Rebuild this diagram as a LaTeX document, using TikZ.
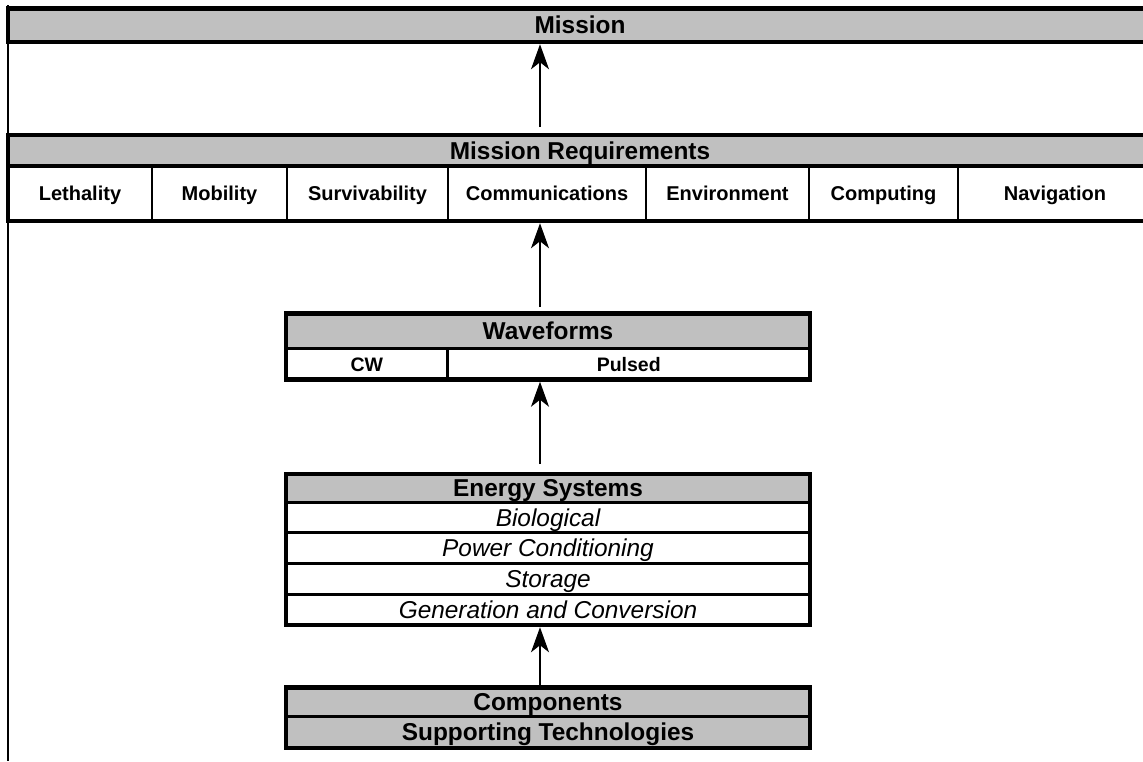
\documentclass[tikz,border=0pt]{standalone}
\usepackage{fontspec}
\setmainfont{Liberation Sans}
\usetikzlibrary{arrows.meta,positioning}
\definecolor{BarGray}{HTML}{C0C0C0}
\tikzset{%
  boxframe/.style={draw=black,line width=4.5pt},
  titlebar/.style={fill=BarGray,draw=black,line width=3pt,inner sep=0pt,outer sep=0pt,
    font=\bfseries\fontsize{24.4}{28}\selectfont,text height=17.4pt,text depth=0pt},
  reqcell/.style={draw=black,line width=1.2pt,inner sep=0pt,outer sep=0pt,
    minimum height=55pt,font=\bfseries\fontsize{20}{24}\selectfont,
    text height=14.3pt,text depth=0pt},
  wavecell/.style={draw=black,line width=3pt,inner sep=0pt,outer sep=0pt,
    minimum height=31pt,font=\bfseries\fontsize{19.5}{23}\selectfont,
    text height=14pt,text depth=0pt},
  energyrow/.style={draw=black,line width=3pt,inner sep=0pt,outer sep=0pt,
    minimum width=524pt,minimum height=30.75pt,font=\itshape\fontsize{24.4}{28}\selectfont,
    text height=17.4pt,text depth=0pt},
  flow/.style={-{Stealth[length=25pt,width=18pt,inset=7pt]},line width=1.5pt}
}

\begin{document}
\begin{tikzpicture}[x=1pt,y=-1pt]
  \useasboundingbox (0,0) rectangle (1143,761);
  \clip (0,0) rectangle (1143,761);

  % left rule
  \coordinate (railtop) at (8,5);
  \coordinate (railbot) at (8,761);
  \draw[line width=2.4pt] (railtop) -- (railbot);

  % mission
  \node[titlebar, boxframe, anchor=north west, minimum width=1144pt, minimum height=33.5pt]
    (mission) at (8,8.5) {Mission};

  % mission requirements
  \node[titlebar, boxframe, anchor=north west, minimum width=1144pt, minimum height=31pt]
    (mreq) at (8,135) {Mission Requirements};
  \node[reqcell, anchor=north west, minimum width=144pt] (lethal) at (mreq.south west) {Lethality};
  \node[reqcell, right=0pt of lethal, minimum width=135pt] (mobil) {Mobility};
  \node[reqcell, right=0pt of mobil, minimum width=161pt] (surviv) {Survivability};
  \node[reqcell, right=0pt of surviv, minimum width=198pt] (comms) {Communications};
  \node[reqcell, right=0pt of comms, minimum width=163pt] (envir) {Environment};
  \node[reqcell, right=0pt of envir, minimum width=149pt] (comput) {Computing};
  \node[reqcell, right=0pt of comput, minimum width=194pt] (navig) {Navigation};
  \draw[boxframe] (lethal.north west) rectangle (navig.south east);

  % waveforms
  \node[titlebar, anchor=north west, minimum width=524pt, minimum height=35pt]
    (wave) at (286,313.5) {Waveforms};
  \node[wavecell, anchor=north west, minimum width=161.5pt] (cw) at (wave.south west) {CW};
  \node[wavecell, right=0pt of cw, minimum width=362.5pt] (pulsed) {Pulsed};
  \draw[boxframe] (wave.north west) rectangle (pulsed.south east);

  % energy systems
  \node[titlebar, anchor=north west, minimum width=524pt, minimum height=28pt]
    (energy) at (286,474) {Energy Systems};
  \node[energyrow, below=0pt of energy] (bio) {Biological};
  \node[energyrow, below=0pt of bio] (powcond) {Power Conditioning};
  \node[energyrow, below=0pt of powcond] (storage) {Storage};
  \node[energyrow, below=0pt of storage] (gencon) {Generation and Conversion};
  \draw[boxframe] (energy.north west) rectangle (gencon.south east);

  % components
  \node[titlebar, anchor=north west, minimum width=524pt, minimum height=29pt]
    (comp) at (286,687.5) {Components};
  \node[titlebar, below=0pt of comp, minimum width=524pt, minimum height=31.5pt]
    (supp) {Supporting Technologies};
  \draw[boxframe] (comp.north west) rectangle (supp.south east);

  % arrows
  \coordinate (axis) at (540,0);
  \draw[flow, shorten <=8pt, shorten >=2.25pt] (axis |- mreq.north) -- (axis |- mission.south);
  \draw[flow, shorten <=6.5pt, shorten >=2.25pt] (axis |- wave.north) -- (axis |- comms.south);
  \draw[flow, shorten <=10pt, shorten >=2.25pt] (axis |- energy.north) -- (axis |- pulsed.south);
  \draw[flow, shorten <=2.25pt, shorten >=2.25pt] (axis |- comp.north) -- (axis |- gencon.south);
\end{tikzpicture}
\end{document}
